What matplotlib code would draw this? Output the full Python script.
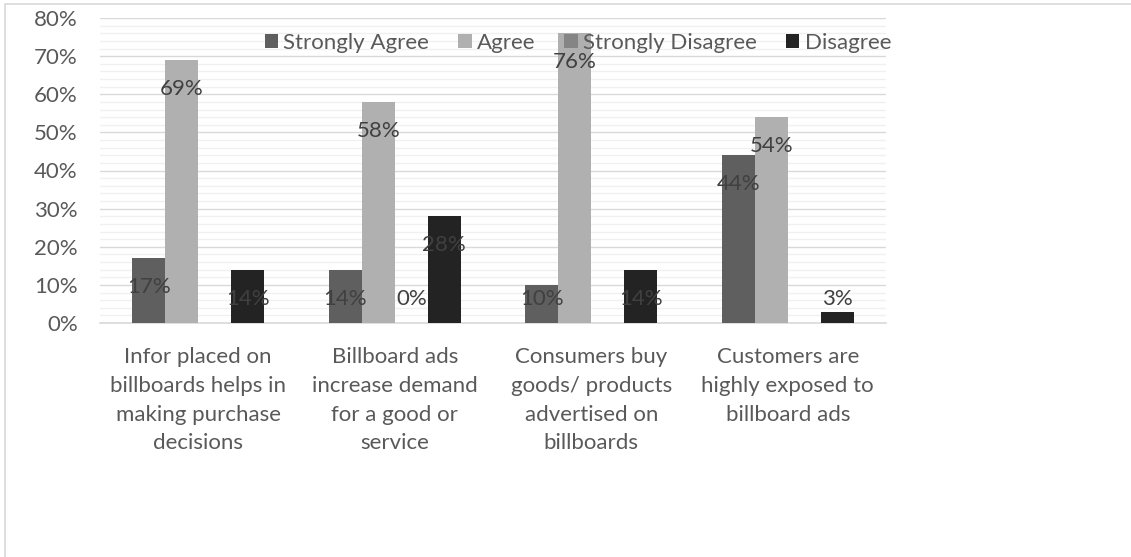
import numpy as np
import matplotlib
matplotlib.use("Agg")
import matplotlib.pyplot as plt
from matplotlib.patches import Rectangle
from matplotlib.ticker import FuncFormatter, MultipleLocator

categories = [
    "Infor placed on\nbillboards helps in\nmaking purchase\ndecisions",
    "Billboard ads\nincrease demand\nfor a good or\nservice",
    "Consumers buy\ngoods/ products\nadvertised on\nbillboards",
    "Customers are\nhighly exposed to\nbillboard ads",
]
series_names = ["Strongly Agree", "Agree", "Strongly Disagree", "Disagree"]
strongly_agree = [17, 14, 10, 44]
agree = [69, 58, 76, 54]
strongly_disagree = [None, 0, None, None]
disagree = [14, 28, 14, 3]
yticks = [0, 10, 20, 30, 40, 50, 60, 70, 80]

colors = ["#5f5f5f", "#b0b0b0", "#858585", "#232323"]
series = [strongly_agree, agree, strongly_disagree, disagree]

plt.rcParams['font.family'] = ['Lato', 'DejaVu Sans']

W, H = 1131, 557
fig = plt.figure(figsize=(W / 100, H / 100), dpi=100)
ax = fig.add_axes([100 / W, 1 - 323 / H, 786 / W, 305 / H])

# figure frame
fig.patches.append(Rectangle((5 / W, -0.1), 1.2, 1 - 4 / H + 0.1, transform=fig.transFigure,
                             fill=False, edgecolor="#d9d9d9", linewidth=1.2, zorder=0))

FS = 16
x = np.arange(len(categories))
bw = 0.168
for i, (name, vals, c) in enumerate(zip(series_names, series, colors)):
    off = (i - 1.5) * bw
    xs = [xi + off for xi, v in zip(x, vals) if v is not None]
    vs = [v for v in vals if v is not None]
    ax.bar(xs, vs, width=bw, color=c, label=name, zorder=3)
    for xx, v in zip(xs, vs):
        ly = max(v - 7.6, 6.2)
        ax.text(xx, ly, f"{v}%", ha="center", va="center", fontsize=FS,
                color="#404040", zorder=4)

ax.set_xlim(-0.5, len(categories) - 0.5)
ax.set_ylim(0, 80)
ax.set_yticks(yticks)
ax.yaxis.set_major_formatter(FuncFormatter(lambda v, p: f"{int(v)}%"))
ax.yaxis.set_minor_locator(MultipleLocator(2))
ax.grid(axis="y", which="major", color="#d9d9d9", linewidth=1.0, zorder=0)
ax.grid(axis="y", which="minor", color="#f0f0f0", linewidth=1.0, zorder=0)
ax.set_axisbelow(True)
ax.set_xticks(x)
ax.set_xticklabels(categories, fontsize=FS, color="#595959", linespacing=1.56)
ax.tick_params(axis="both", which="both", length=0, labelsize=FS, labelcolor="#595959")
ax.tick_params(axis="x", pad=17)
ax.tick_params(axis="y", pad=16)
for s in ["top", "right", "left"]:
    ax.spines[s].set_visible(False)
ax.spines["bottom"].set_color("#d9d9d9")
ax.spines["bottom"].set_linewidth(1.2)

leg = ax.legend(loc="center", bbox_to_anchor=((578 - 100) / 786, (323 - 43) / 305), ncol=4,
                frameon=False, fontsize=FS, handlelength=0.6, handleheight=0.6,
                handletextpad=0.25, columnspacing=1.3, labelcolor="#595959",
                borderpad=0, borderaxespad=0)
leg.set_zorder(5)

fig.savefig("out.png", dpi=100)
